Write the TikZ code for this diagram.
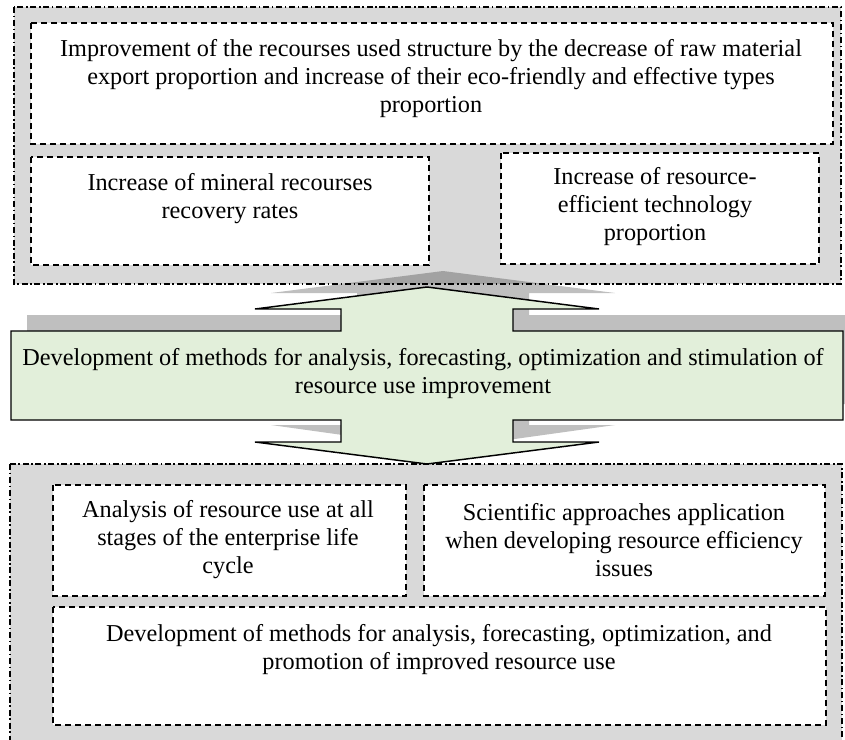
\documentclass[tikz,border=0pt]{standalone}
\usepackage{fontspec}
\setmainfont{Liberation Serif}
\usepackage{tikz}
\usepackage{xcolor}

\tikzset{
  outerbox/.style={fill={rgb, 255:red, 217; green, 217; blue, 217 }, draw=black, line width=1.2pt, dash pattern=on 4.5pt off 2pt on 1.2pt off 2pt},
  innerbox/.style={fill=white, draw=black, line width=1.2pt, dash pattern=on 4.5pt off 3pt},
  boxtext/.style={anchor=center, inner sep=0pt, align=center, font=\fontsize{18.2}{21}\selectfont},
}

\begin{document}
\begin{tikzpicture}[x=0.75pt,y=0.75pt,yscale=-1,xscale=1]
  \useasboundingbox (0,0) rectangle (845,739);

  %Shape: Rectangle [outer top]
  \draw [outerbox] (14,7) rectangle (841,284) ;
  %Shape: Rectangle [outer bottom]
  \draw [outerbox] (10,464) rectangle (842,760) ;

  %Shape: Rectangle [inner top]
  \draw [innerbox] (31,23) rectangle (833,144) ;
  \draw [innerbox] (31,157) rectangle (429,265) ;
  \draw [innerbox] (501,153) rectangle (819,264) ;
  %Shape: Rectangle [inner bottom]
  \draw [innerbox] (53,485) rectangle (406,596) ;
  \draw [innerbox] (424,485) rectangle (825,596) ;
  \draw [innerbox] (53,607) rectangle (826,725) ;

  %Shape: Double Arrow shadow
  \fill [black, fill opacity=0.25] (443,271) -- (615,293) -- (529,293) -- (529,315) -- (859,315) -- (859,404) -- (529,404) -- (529,425) -- (615,425) -- (443,449) -- (271,425) -- (357,425) -- (357,404) -- (27,404) -- (27,315) -- (357,315) -- (357,293) -- (271,293) -- cycle ;
  %Shape: Double Arrow
  \draw [fill={rgb, 255:red, 226; green, 239; blue, 218 }, line width=1.1pt, line join=miter] (427,287) -- (599,309) -- (513,309) -- (513,331) -- (843,331) -- (843,420) -- (513,420) -- (513,442) -- (599,442) -- (427,464) -- (255,442) -- (341,442) -- (341,420) -- (11,420) -- (11,331) -- (341,331) -- (341,309) -- (255,309) -- cycle ;

  % Text Node
  \draw (431,79) node (struct) [boxtext] {Improvement of the recourses used structure by the decrease of raw material\\export proportion and increase of their eco-friendly and effective types\\proportion};
  % Text Node
  \draw (230,198.5) node (recovery) [boxtext] {Increase of mineral recourses\\recovery rates};
  % Text Node
  \draw (655,207) node (techshare) [boxtext] {Increase of resource-\\efficient technology\\proportion};
  % Text Node
  \draw (423,373.5) node (methods) [boxtext] {Development of methods for analysis, forecasting, optimization and stimulation of\\resource use improvement};
  % Text Node
  \draw (228,540) node (lifecycle) [boxtext] {Analysis of resource use at all\\stages of the enterprise life\\cycle};
  % Text Node
  \draw (624,540) node (science) [boxtext] {Scientific approaches application\\when developing resource efficiency\\issues};
  % Text Node
  \draw (439,649.5) node (promotion) [boxtext] {Development of methods for analysis, forecasting, optimization, and\\promotion of improved resource use};

\end{tikzpicture}
\end{document}
